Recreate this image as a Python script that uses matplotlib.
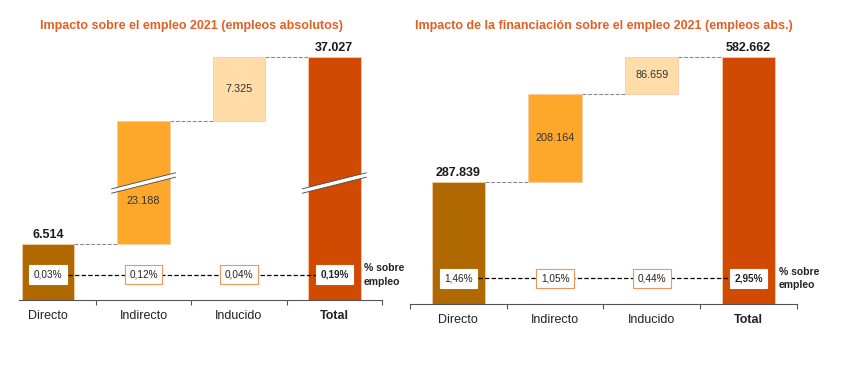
import numpy as np
import matplotlib
matplotlib.use("Agg")
import matplotlib.pyplot as plt
import matplotlib.transforms as mtransforms

plt.rcParams['font.family'] = ['Liberation Sans', 'DejaVu Sans']

# Datos
categorias = ['Directo', 'Indirecto', 'Inducido', 'Total']
empleo_abs = [6514, 23188, 7325, 37027]
empleo_pct = ['0,03%', '0,12%', '0,04%', '0,19%']
financ_abs = [287839, 208164, 86659, 582662]
financ_pct = ['1,46%', '1,05%', '0,44%', '2,95%']

titulo_izq = 'Impacto sobre el empleo 2021 (empleos absolutos)'
titulo_der = 'Impacto de la financiación sobre el empleo 2021 (empleos abs.)'

colores = ['#B06800', '#FDA82A', '#FFDCA8', '#D04A02']
color_titulo = '#E06026'
ancho = 0.55


def fmt(v):
    return f"{v:,}".replace(',', '.')


def waterfall(ax, valores, pcts, ymax, corte=None, xini=-0.5, ticks=(-0.5, 0.5, 1.5, 2.5, 3.5)):
    # escala con corte de eje (opcional)
    if corte is not None:
        b0, b1 = corte
        gap = b1 - b0

        def fwd(y):
            y = np.asarray(y, float)
            return np.where(y < b0, y, np.where(y < b1, b0, y - gap))

        def inv(y):
            y = np.asarray(y, float)
            return np.where(y < b0, y, y + gap)
        ax.set_yscale('function', functions=(fwd, inv))

    x = np.arange(len(valores))
    bottoms = [0, valores[0], valores[0] + valores[1], 0]
    tops = [b + v for b, v in zip(bottoms, valores)]
    ax.bar(x, valores, bottom=bottoms, width=ancho, color=colores,
           edgecolor='#F3CDA8', linewidth=0.6, zorder=2)
    ax.set_xlim(-0.5, 3.5)
    ax.set_ylim(0, ymax)

    # conectores
    for i in range(3):
        ax.plot([x[i] + ancho / 2, x[i + 1] - ancho / 2], [tops[i], tops[i]],
                color='#8A8A8A', lw=0.8, dashes=(3.5, 1.5), zorder=1)

    # etiquetas de valor
    for i in (0, 3):
        ax.annotate(fmt(valores[i]), (x[i], tops[i]), xytext=(0, 2), textcoords='offset points',
                    ha='center', va='bottom', fontsize=9, fontweight='bold', color='#1A1A1A')
    for i in (1, 2):
        if corte is not None and bottoms[i] < corte[0] < tops[i]:
            ax.annotate(fmt(valores[i]), (x[i], corte[0]), xytext=(0, -13), textcoords='offset points',
                        ha='center', va='center', fontsize=7.8, color='#333333', zorder=4)
        else:
            ax.text(x[i], bottoms[i] + valores[i] / 2, fmt(valores[i]), ha='center', va='center',
                    fontsize=7.8, color='#333333', zorder=4)

    # fila de porcentajes
    tr = mtransforms.blended_transform_factory(ax.transData, ax.transAxes)
    ypct = 0.097
    ax.plot([x[0], x[3]], [ypct, ypct], transform=tr, color='black', lw=0.9,
            dashes=(3.5, 1.8), zorder=3)
    for i, p in enumerate(pcts):
        borde = '#F0955A' if i in (1, 2) else 'white'
        ax.text(x[i], ypct, p, transform=tr, ha='center', va='center', fontsize=7.2,
                fontweight='bold' if i == 3 else 'normal', color='#222222', zorder=5,
                bbox=dict(boxstyle='square,pad=0.45', fc='white', ec=borde, lw=0.8))
    ax.text(3.31, ypct, '% sobre\nempleo', transform=tr, ha='left', va='center',
            fontsize=7.5, fontweight='bold', color='#222222', linespacing=1.45)

    # ejes
    for s in ('left', 'top', 'right'):
        ax.spines[s].set_visible(False)
    ax.spines['bottom'].set_color('#555555')
    ax.spines['bottom'].set_bounds(xini, 3.5)
    ax.set_yticks([])
    ax.set_xticks(x)
    ax.set_xticklabels(categorias, fontsize=9, color='#222222')
    ax.get_xticklabels()[3].set_fontweight('bold')
    ax.set_xticks(ticks, minor=True)
    ax.tick_params(axis='x', which='major', length=0, pad=7)
    ax.tick_params(axis='x', which='minor', length=3.5, color='#555555', width=0.8)

    # marcas de corte
    if corte is not None:
        inv_ax = ax.transAxes.inverted()
        for i in range(4):
            if bottoms[i] < corte[0] < tops[i]:
                p0 = ax.transData.transform((x[i] - ancho / 2 - 0.06, corte[0]))
                p1 = ax.transData.transform((x[i] + ancho / 2 + 0.06, corte[0]))
                p0 = p0 + np.array([0, -8])
                p1 = p1 + np.array([0, 8])
                pts = inv_ax.transform([p0, p1])
                ax.plot(pts[:, 0], pts[:, 1], transform=ax.transAxes, color='white',
                        lw=3.2, solid_capstyle='butt', zorder=6, clip_on=False)
                for d in (-2.2, 2.2):
                    q = inv_ax.transform([p0 + np.array([0, d]), p1 + np.array([0, d])])
                    ax.plot(q[:, 0], q[:, 1], transform=ax.transAxes, color='#444444',
                            lw=0.6, zorder=7, clip_on=False)


fig = plt.figure(figsize=(8.55, 3.68), dpi=100)
ax1 = fig.add_axes([0.0006, 0.1848, 0.4462, 0.7065])
ax2 = fig.add_axes([0.4795, 0.1739, 0.4526, 0.7174])

waterfall(ax1, empleo_abs, empleo_pct, 39000, corte=(13500, 22500), xini=-0.31,
          ticks=(0.5, 1.5, 2.5, 3.5))
waterfall(ax2, financ_abs, financ_pct, 622600)

for ax, t in ((ax1, titulo_izq), (ax2, titulo_der)):
    pos = ax.get_position()
    fig.text(pos.x0 + pos.width / 2, 1 - 26 / 368, t, ha='center', va='center',
             fontsize=9, fontweight='bold', color=color_titulo)

fig.savefig('out.png', dpi=100)
